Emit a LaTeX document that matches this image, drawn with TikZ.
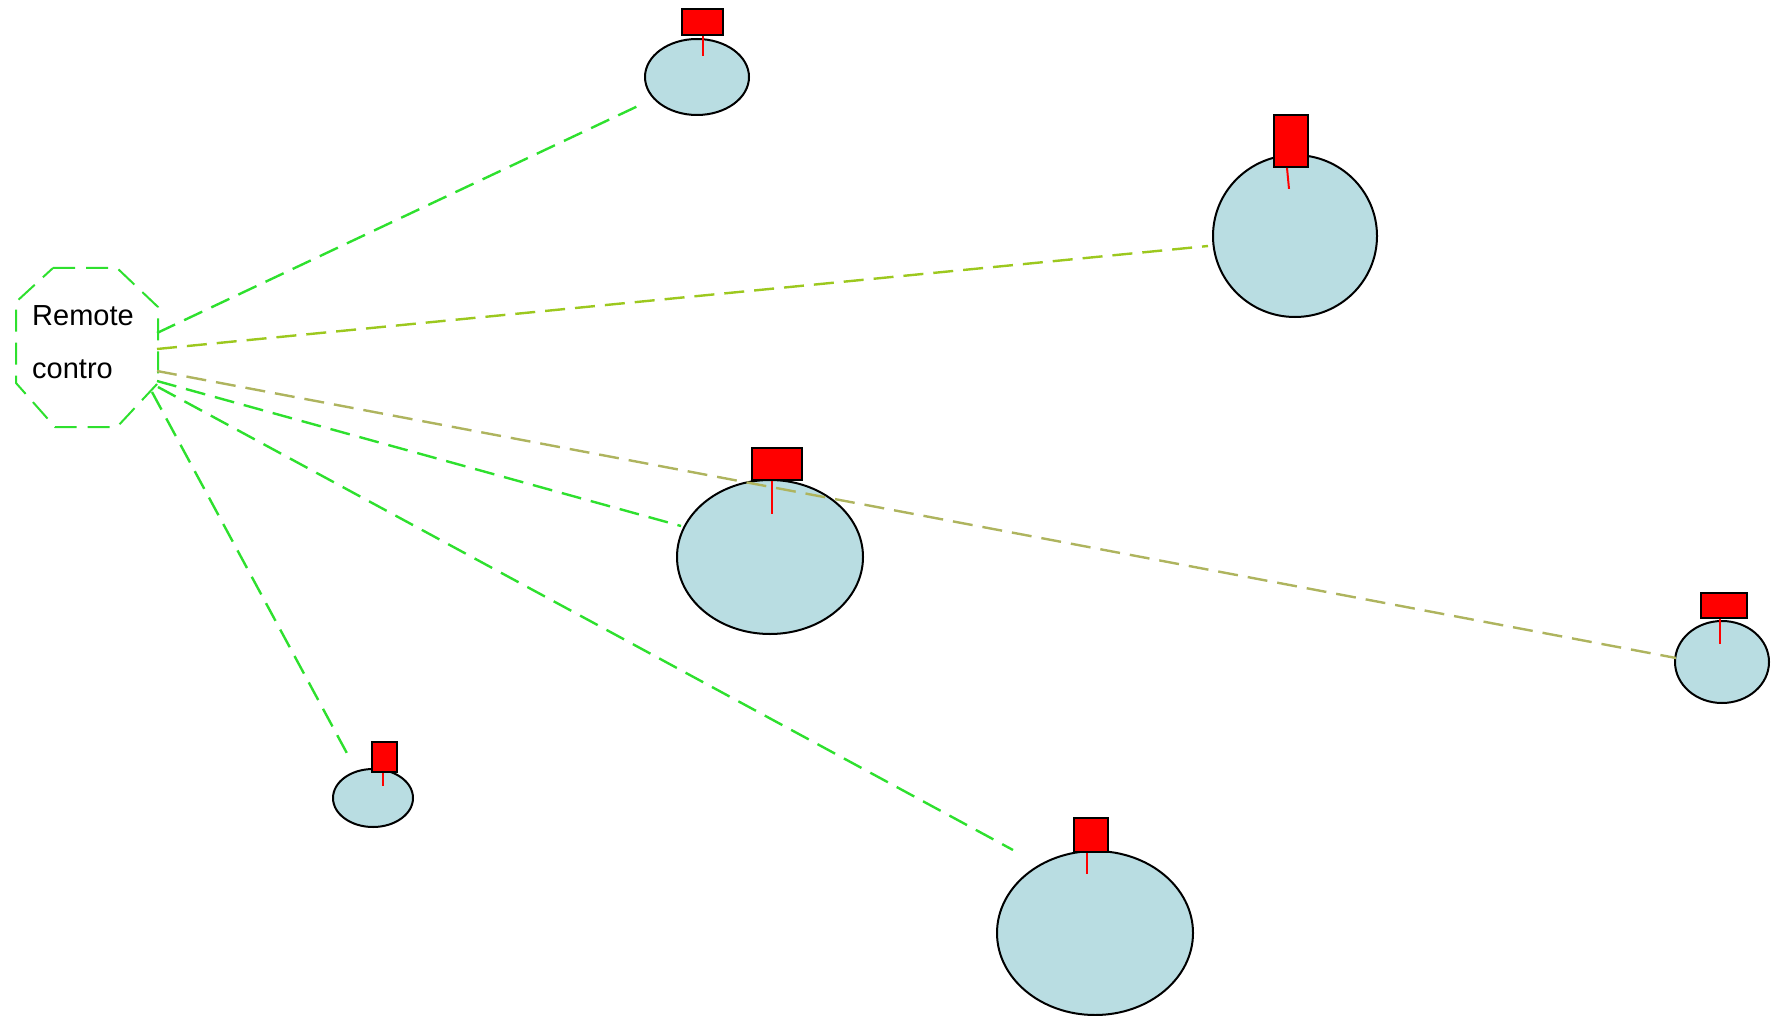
\documentclass[tikz,border=0pt]{standalone}
\usepackage{fontspec}
\setmainfont{Liberation Sans}
\usetikzlibrary{shapes.geometric}
\definecolor{linkgreen}{HTML}{2EE02E}
\definecolor{linklime}{HTML}{9CC81E}
\definecolor{linkolive}{HTML}{AEB45E}
\definecolor{hostfill}{HTML}{B9DDE2}
\definecolor{flagred}{HTML}{FF0000}
\tikzset{
  host/.style={ellipse, draw=black, line width=2pt, fill=hostfill, inner sep=0pt},
  flagbox/.style={rectangle, draw=black, line width=1.8pt, fill=flagred, inner sep=0pt},
  stem/.style={draw=flagred, line width=2pt},
  link/.style={line width=2.4pt, dash pattern=on 20pt off 10pt},
  octline/.style={draw=linkgreen, line width=2pt, dash pattern=on 22pt off 11pt},
  label/.style={inner sep=0pt, anchor=base west, font=\fontsize{29}{35}\selectfont}
}
\begin{document}
\begin{tikzpicture}[x=1pt, y=-1pt]
\useasboundingbox (0,0) rectangle (1771,1016);

% controller outline and its label
\draw[octline] (53,268) -- (117,268) -- (158,307) -- (158,383) -- (117,427)
  -- (55,427) -- (16,383) -- (16,302) -- cycle;
\node[label] (rcA) at (32,325) {Remote};
\node[label] (rcB) at (32,378) {contro};

% link start points on the controller's right side
\coordinate (s1) at (157,333);
\coordinate (s2) at (157,349);
\coordinate (s3) at (157,371);
\coordinate (s4) at (157,381);
\coordinate (s5) at (158,387);
\coordinate (s6) at (152,392);

% link ends, just short of each host
\coordinate (t1) at (638,106);
\coordinate (t2) at (1208,246);
\coordinate (t3) at (1676,658);
\coordinate (t4) at (681,526);
\coordinate (t5) at (1013,850);
\coordinate (t6) at (349,757);

\draw[link, draw=linkgreen] (s1) -- (t1);
\draw[link, draw=linklime] (s2) -- (t2);
\draw[link, draw=linkgreen] (s4) -- (t4);
\draw[link, draw=linkgreen] (s5) -- (t5);
\draw[link, draw=linkgreen] (s6) -- (t6);

% hosts
\node[host, minimum width=104pt, minimum height=76pt]  (h1) at (697,77) {};
\node[host, minimum width=164pt, minimum height=162pt] (h2) at (1295,236) {};
\node[host, minimum width=186pt, minimum height=154pt] (h3) at (770,557) {};
\node[host, minimum width=94pt,  minimum height=82pt]  (h4) at (1722,662) {};
\node[host, minimum width=80pt,  minimum height=58pt]  (h5) at (373,798) {};
\node[host, minimum width=196pt, minimum height=164pt] (h6) at (1095,933) {};

% the long link passes over the middle host
\draw[link, draw=linkolive] (s3) -- (t3);

% flags on top of the hosts
\node[flagbox, minimum width=41pt, minimum height=26pt] (f1) at (702.5,22) {};
\node[flagbox, minimum width=34pt, minimum height=52pt] (f2) at (1291,141) {};
\node[flagbox, minimum width=50pt, minimum height=32pt] (f3) at (777,464) {};
\node[flagbox, minimum width=46pt, minimum height=25pt] (f4) at (1724,605.5) {};
\node[flagbox, minimum width=25pt, minimum height=30pt] (f5) at (384.5,757) {};
\node[flagbox, minimum width=34pt, minimum height=34pt] (f6) at (1091,835) {};

\draw[stem] ([xshift=0.5pt]f1.south) -- ++(0,20);
\draw[stem] ([xshift=-4pt]f2.south) -- ++(2,21);
\draw[stem] ([xshift=-5pt]f3.south) -- ++(0,33);
\draw[stem] ([xshift=-4pt]f4.south) -- ++(0,25);
\draw[stem] ([xshift=-1.5pt]f5.south) -- ++(0,13);
\draw[stem] ([xshift=-4pt]f6.south) -- ++(0,21);
\end{tikzpicture}
\end{document}
